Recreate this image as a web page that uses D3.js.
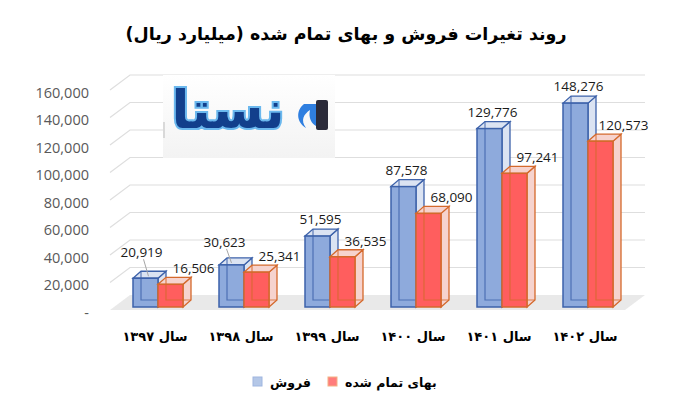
<!DOCTYPE html>
<html>
<head>
<meta charset="utf-8">
<script src="https://cdnjs.cloudflare.com/ajax/libs/d3/7.8.5/d3.min.js"></script>
<style>
body { margin: 0; background: #fff; }
svg { display: block; }
</style>
</head>
<body>
<div id="chart"></div>
<script>
var years = ["سال ۱۳۹۷", "سال ۱۳۹۸", "سال ۱۳۹۹", "سال ۱۴۰۰", "سال ۱۴۰۱", "سال ۱۴۰۲"];
var sales = [20919, 30623, 51595, 87578, 129776, 148276];
var cost = [16506, 25341, 36535, 68090, 97241, 120573];
var yTicks = [0, 20000, 40000, 60000, 80000, 100000, 120000, 140000, 160000];
var seriesNames = ["فروش", "بهای تمام شده"];
var title = "روند تغیرات فروش و بهای تمام شده (میلیارد ریال)";

var width = 681, height = 397;
var dx = 8, dy = 7;      // box depth
var bw = 25;             // bar width
var fc = d3.format(",");

var svg = d3.select("#chart").append("svg")
	.attr("width", width).attr("height", height);

var x = d3.scaleBand().domain(years).range([115, 631]);
var y = d3.scaleLinear().domain([0, 160000]).range([307, 87]);

//  Title
svg.append("text").attr("x", 346).attr("y", 34)
	.attr("text-anchor", "middle").attr("dominant-baseline", "central")
	.attr("direction", "rtl")
	.style("font-family", "DejaVu Sans").style("font-weight", "bold")
	.style("font-size", "17.5px").text(title);

//  Floor and gridlines
svg.append("polygon")
	.attr("points", [[110, y(0) + 3], [625, y(0) + 3], [645, y(0) - 12], [130, y(0) - 12]].join(" "))
	.attr("fill", "#e9e9e9");

var grid = svg.append("g");
grid.selectAll("path").data(yTicks.filter(function(d) { return d > 0; }))
	.enter().append("path")
	.attr("d", function(d) {
		return "M110," + (y(d) + 3) + "L130," + (y(d) - 12) + "L645," + (y(d) - 12);
	})
	.attr("fill", "none").attr("stroke", "#dedede").attr("stroke-width", 1.2);

//  Y axis labels
svg.append("g").selectAll("text").data(yTicks).enter().append("text")
	.attr("x", 89).attr("y", function(d) { return y(d) + 5; })
	.attr("text-anchor", "end").attr("dominant-baseline", "central")
	.style("font-family", "Open Sans").style("font-size", "14.5px")
	.attr("fill", "#595959")
	.text(function(d) { return d === 0 ? "-" : fc(d); });

//  Logo watermark
var grad = svg.append("defs").append("linearGradient").attr("id", "lg")
	.attr("x1", 0).attr("y1", 0).attr("x2", 0).attr("y2", 1);
grad.append("stop").attr("offset", "0").attr("stop-color", "#ffffff");
grad.append("stop").attr("offset", "1").attr("stop-color", "#f3f3f3");
var logo = svg.append("g");
logo.append("rect").attr("x", 163).attr("y", 75).attr("width", 172).attr("height", 83)
	.attr("fill", "url(#lg)");
logo.append("line").attr("x1", 164).attr("x2", 164).attr("y1", 122).attr("y2", 138)
	.attr("stroke", "#bbb");
logo.append("text").attr("x", 228).attr("y", 110)
	.attr("text-anchor", "middle").attr("dominant-baseline", "central")
	.attr("direction", "rtl")
	.style("font-family", "DejaVu Sans").style("font-weight", "bold")
	.style("font-size", "52px")
	.attr("fill", "#123f8c").attr("stroke", "#6bb8ee").attr("stroke-width", 4)
	.attr("paint-order", "stroke").text("نستا");
logo.append("path")
	.attr("d", "M304,104 C296,110 296,122 306,128 C300,120 304,114 310,110 C308,118 312,124 316,126 L316,104 Z")
	.attr("fill", "#2f7fe0");
logo.append("rect").attr("x", 316).attr("y", 100).attr("width", 12).attr("height", 30)
	.attr("fill", "#2b2b3a").attr("rx", 2);

//  3D boxes
function box(g, x0, v, front, side, stroke) {
	var yt = y(v), yb = y(0);
	g.append("polygon")
		.attr("points", [[x0 + bw, yt], [x0 + bw + dx, yt - dy], [x0 + bw + dx, yb - dy], [x0 + bw, yb]].join(" "))
		.attr("fill", side).attr("stroke", stroke).attr("stroke-width", 1.3);
	g.append("polygon")
		.attr("points", [[x0, yt], [x0 + dx, yt - dy], [x0 + bw + dx, yt - dy], [x0 + bw, yt]].join(" "))
		.attr("fill", side).attr("stroke", stroke).attr("stroke-width", 1.3);
	g.append("rect").attr("x", x0).attr("y", yt).attr("width", bw).attr("height", yb - yt)
		.attr("fill", front).attr("stroke", stroke).attr("stroke-width", 1.5);
	g.append("path")
		.attr("d", "M" + (x0 + dx) + "," + (yt - dy) + "V" + (yb - dy) + "H" + (x0 + bw + dx))
		.attr("fill", "none").attr("stroke", stroke).attr("stroke-width", 1.2)
		.attr("stroke-opacity", 0.8);
}

var bars = svg.append("g");
years.forEach(function(d, i) {
	var c = x(d) + x.bandwidth() / 2;
	box(bars, c - bw, sales[i], "#8eaadc", "#dbe3f2", "#3d62aa");
	box(bars, c, cost[i], "#ff5e5e", "#f6d3ce", "#d4692c");
});

//  Value labels
var nudge = { 0: [-7, -9], 1: [-10, -6] };
var labels = svg.append("g").style("font-family", "Open Sans").style("font-size", "13.5px")
	.attr("fill", "#1a1a1a");
years.forEach(function(d, i) {
	var c = x(d) + x.bandwidth() / 2;
	var bx = c - bw / 2 + 3, by = y(sales[i]) - dy - 10;
	if (nudge[i]) {
		bx += nudge[i][0]; by += nudge[i][1];
		svg.append("line").attr("x1", bx + 2).attr("y1", by + 7)
			.attr("x2", bx + 7).attr("y2", y(sales[i]) - 2)
			.attr("stroke", "#a6a6a6").attr("stroke-width", 1);
	}
	labels.append("text").attr("x", bx).attr("y", by)
		.attr("text-anchor", "middle").attr("dominant-baseline", "central")
		.text(fc(sales[i]));
	labels.append("text").attr("x", c + bw / 2 + 23).attr("y", y(cost[i]) - dy - 9)
		.attr("text-anchor", "middle").attr("dominant-baseline", "central")
		.text(fc(cost[i]));
});
labels.raise();

//  X axis labels
svg.append("g").selectAll("text").data(years).enter().append("text")
	.attr("x", function(d) { return x(d) + x.bandwidth() / 2 - 3; })
	.attr("y", 336)
	.attr("text-anchor", "middle").attr("dominant-baseline", "central")
	.attr("direction", "rtl")
	.style("font-family", "DejaVu Sans").style("font-weight", "bold")
	.style("font-size", "13px")
	.text(function(d) { return d; });

//  Legend
var legend = svg.append("g");
var legX = [253, 328];
var legC = [["#b4c7e7", "#9fb6e0"], ["#ff7c7c", "#f4b183"]];
seriesNames.forEach(function(n, i) {
	legend.append("rect").attr("x", legX[i]).attr("y", 377).attr("width", 9).attr("height", 9)
		.attr("fill", legC[i][0]).attr("stroke", legC[i][1]).attr("stroke-width", 1);
	legend.append("text").attr("x", legX[i] + 17).attr("y", 382)
		.attr("dominant-baseline", "central")
		.style("font-family", "DejaVu Sans").style("font-weight", "bold")
		.style("font-size", "12.5px")
		.text(n);
});
</script>
</body>
</html>
